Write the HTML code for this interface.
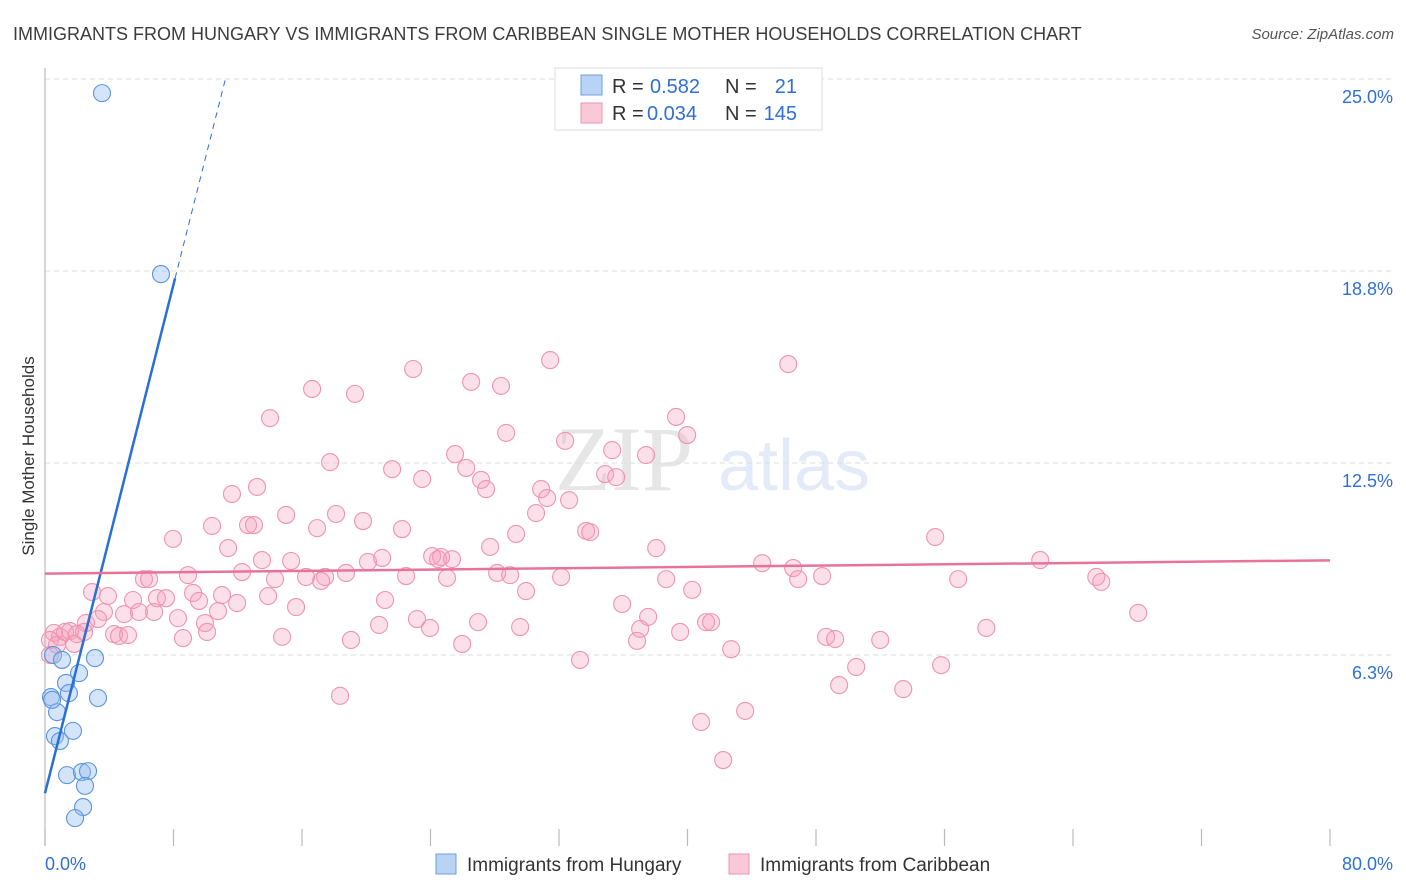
<!DOCTYPE html>
<html><head><meta charset="utf-8"><style>
body{margin:0;background:#fff;font-family:"Liberation Sans",sans-serif;}
svg{display:block}
</style></head><body>
<svg id="chart" width="1406" height="892" xmlns="http://www.w3.org/2000/svg" font-family="Liberation Sans, sans-serif">
<text x="13" y="40" font-size="18" fill="#3c3c3c">IMMIGRANTS FROM HUNGARY VS IMMIGRANTS FROM CARIBBEAN SINGLE MOTHER HOUSEHOLDS CORRELATION CHART</text>
<text x="1394" y="39" font-size="15" fill="#555" text-anchor="end" font-style="italic">Source: ZipAtlas.com</text>
<text transform="translate(34,456) rotate(-90)" font-size="17" fill="#333" text-anchor="middle">Single Mother Households</text>
<g opacity="0.13">
<text x="555" y="490" font-size="92" font-family="Liberation Serif, serif" fill="#444">ZIP</text>
<text x="718" y="490" font-size="72" fill="#2f6fd6">atlas</text>
</g>
<g id="grid"></g>
<g id="ticks"></g>
<line x1="45" y1="68" x2="45" y2="846" stroke="#bbb" stroke-width="1.2"/>
<g id="pink"></g>
<g id="blue"></g>
<g id="lines"></g>
<g>
<rect x="555" y="68" width="267" height="62" fill="#fff" stroke="#ddd"/>
<rect x="581" y="75" width="21" height="20" fill="#b9d3f5" stroke="#6a9fe0"/>
<rect x="581" y="103" width="21" height="20" fill="#fac9d8" stroke="#ee92b0"/>
<text x="612" y="93" font-size="20" fill="#333">R =</text>
<text x="650" y="93" font-size="20" fill="#2f6fd6">0.582</text>
<text x="725" y="93" font-size="20" fill="#333">N =</text>
<text x="797" y="93" font-size="20" fill="#2f6fd6" text-anchor="end">21</text>
<text x="612" y="120" font-size="20" fill="#333">R =</text>
<text x="647" y="120" font-size="20" fill="#2f6fd6">0.034</text>
<text x="725" y="120" font-size="20" fill="#333">N =</text>
<text x="797" y="120" font-size="20" fill="#2f6fd6" text-anchor="end">145</text>
</g>
<g>
<rect x="436" y="854" width="20" height="20" fill="#b9d3f5" stroke="#6a9fe0"/>
<text x="467" y="871" font-size="19" fill="#333">Immigrants from Hungary</text>
<rect x="729" y="854" width="20" height="20" fill="#fac9d8" stroke="#ee92b0"/>
<text x="760" y="871" font-size="19" fill="#333">Immigrants from Caribbean</text>
</g>
<text x="45" y="870" font-size="18" fill="#2f6fd6">0.0%</text>
<text x="1393" y="870" font-size="18" fill="#2f6fd6" text-anchor="end">80.0%</text>
</svg>
<script>
const yTicks=[25.0,18.8,12.5,6.3];
const yTickVals=[25,18.75,12.5,6.25];
const xTickVals=[0,8,16,24,32,40,48,56,64,72,80];
const blueX=[3.55,7.22,3.11,0.5,1.06,2.12,0.37,1.31,1.49,3.30,0.75,1.74,0.62,0.93,1.37,2.30,2.68,2.49,2.37,1.87,0.44];
const blueY=[24.54,18.65,6.15,6.25,6.09,5.66,4.88,5.34,5.01,4.85,4.39,3.78,3.61,3.45,2.34,2.44,2.47,1.99,1.30,0.94,4.79];
const pinkX=[31.45,46.27,22.92,26.53,16.63,28.39,19.30,39.29,14.01,39.98,28.71,32.38,35.31,37.42,25.53,17.75,26.22,21.61,27.15,23.48,34.87,35.56,13.20,11.64,27.46,30.89,31.26,32.63,30.57,15.01,18.12,19.80,10.40,12.64,13.01,16.94,22.23,29.33,33.69,33.94,7.97,11.40,27.71,38.05,55.42,61.96,13.51,15.32,20.11,20.99,24.10,24.47,25.34,24.66,46.58,44.65,12.27,8.90,17.44,18.74,22.48,25.03,28.15,28.96,32.13,38.67,48.38,46.89,56.85,65.45,65.76,6.16,6.48,14.32,16.25,17.19,2.93,3.92,9.22,11.02,13.89,6.97,7.53,29.95,40.29,21.17,5.48,9.59,11.96,15.63,3.67,4.92,5.85,6.79,8.28,10.77,35.93,37.55,23.16,20.80,23.97,26.96,29.58,41.16,41.47,68.06,2.55,3.30,2.43,9.96,10.09,37.05,39.54,48.63,49.19,52.00,58.60,4.30,4.61,5.17,8.59,14.76,19.05,25.97,36.86,42.72,0.56,0.93,1.25,1.56,1.99,1.81,0.31,0.75,0.31,33.31,50.50,55.79,49.44,53.43,18.37,43.59,40.85,42.22];
const pinkY=[15.85,15.72,15.56,15.14,14.91,15.01,14.75,14.00,13.96,13.41,13.48,13.22,12.92,12.76,12.79,12.53,12.34,12.30,11.95,11.98,12.14,12.04,11.72,11.49,11.65,11.65,11.36,11.29,10.87,10.81,10.84,10.61,10.45,10.48,10.48,10.38,10.35,10.19,10.29,10.25,10.03,9.73,9.77,9.73,10.09,9.34,9.34,9.31,9.28,9.41,9.47,9.37,9.37,9.44,9.08,9.24,8.95,8.85,8.79,8.92,8.82,8.76,8.92,8.85,8.79,8.72,8.82,8.72,8.72,8.79,8.63,8.72,8.72,8.72,8.79,8.66,8.30,8.17,8.27,8.20,8.17,8.10,8.10,8.33,8.37,8.04,8.04,8.01,7.94,7.81,7.65,7.58,7.65,7.65,7.45,7.68,7.91,7.49,7.42,7.23,7.13,7.32,7.16,7.32,7.32,7.62,7.29,7.42,7.00,7.29,7.00,7.10,7.00,6.84,6.77,6.74,7.13,6.93,6.87,6.90,6.80,6.84,6.74,6.61,6.71,6.44,6.97,6.84,7.00,7.03,6.93,6.61,6.74,6.58,6.25,6.09,5.86,5.92,5.27,5.14,4.92,4.43,4.07,2.83];
const blueTrend=[1.75,2.07];   // intercept, slope
const blueSolidEnd=8.1, blueDashEnd=11.25;
const pinkTrend=[8.9,0.0054];
const NS="http://www.w3.org/2000/svg";
const xs=v=>45+v*16.0625;
const ys=v=>847-v*30.72;
function mk(tag,attrs,parent){const e=document.createElementNS(NS,tag);for(const k in attrs)e.setAttribute(k,attrs[k]);parent.appendChild(e);return e;}
const grid=document.getElementById('grid');
yTickVals.forEach((v,i)=>{
  const l=mk('line',{x1:45,x2:1393,y1:ys(v),y2:ys(v),stroke:'#ddd','stroke-dasharray':'5,4'},grid);
  
  
  const t=mk('text',{x:1393,y:ys(v)+24,'font-size':18,fill:'#2f6fd6','text-anchor':'end'},grid);
  t.textContent=yTicks[i].toFixed(1)+'%';
  
  
});
const ticks=document.getElementById('ticks');
xTickVals.forEach(v=>{
  const l=mk('line',{x1:xs(v),x2:xs(v),y1:829,y2:846,stroke:'#bbb','stroke-width':1.2},ticks);
  
  
});
const pg=document.getElementById('pink');
pinkX.forEach((x,i)=>{
  const c=mk('circle',{cx:xs(x),cy:ys(pinkY[i]),r:8.5,fill:'rgba(246,160,188,0.33)',stroke:'#ef93b1','stroke-width':1.1},pg);
  
  
});
const bg=document.getElementById('blue');
blueX.forEach((x,i)=>{
  const c=mk('circle',{cx:xs(x),cy:ys(blueY[i]),r:8.5,fill:'rgba(150,190,240,0.4)',stroke:'#5b94dc','stroke-width':1.1},bg);
  
  
});
const lg=document.getElementById('lines');
const by=x=>blueTrend[0]+blueTrend[1]*x;
const b1=mk('line',{x1:xs(0),y1:ys(by(0)),x2:xs(blueSolidEnd),y2:ys(by(blueSolidEnd)),stroke:'#2a6fd4','stroke-width':2.5},lg);


const b2=mk('line',{x1:xs(blueSolidEnd),y1:ys(by(blueSolidEnd)),x2:xs(blueDashEnd),y2:ys(by(blueDashEnd)),stroke:'#2a6fd4','stroke-width':1,'stroke-dasharray':'6,5'},lg);


const py=x=>pinkTrend[0]+pinkTrend[1]*x;
const p1=mk('line',{x1:xs(0),y1:ys(py(0)),x2:xs(80),y2:ys(py(80)),stroke:'#e8739a','stroke-width':2.5},lg);


</script>
</body></html>
